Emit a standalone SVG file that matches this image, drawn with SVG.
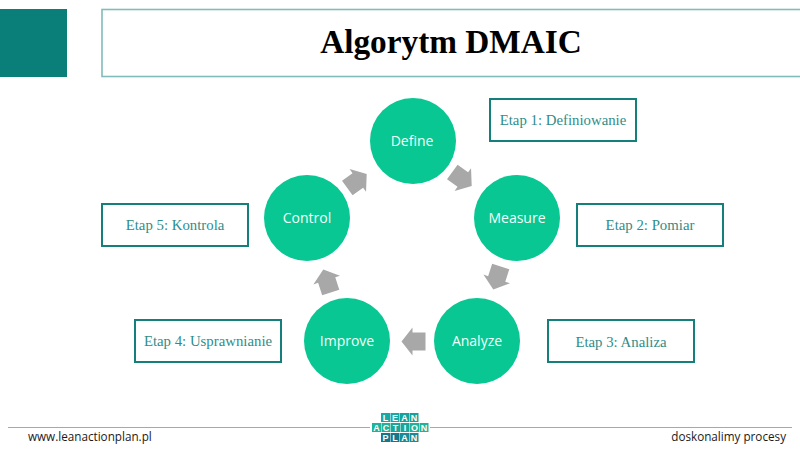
<svg xmlns="http://www.w3.org/2000/svg" width="800" height="450" viewBox="0 0 800 450">
<defs>
<style>
.node{fill:#08c792}
.nt{font-family:"Open Sans","Noto Sans",sans-serif;font-size:14px;fill:#f2fffa;text-anchor:middle}
.box{fill:#fff;stroke:#157f7c;stroke-width:2}
.bt{font-family:"Liberation Serif",serif;font-size:14.8px;fill:#2f8d89;text-anchor:middle}
.arrow{fill:#a8a8a8}
.foot{font-family:"Open Sans","Noto Sans",sans-serif;font-size:11.7px;fill:#1a1a1a}
.lc{stroke:none}
.lt{font-family:"Liberation Sans",sans-serif;font-size:9px;font-weight:bold;fill:#fff;text-anchor:middle}
</style>
<path id="ar" d="M-12 0L-1-14V-9H12V9H-1V14Z"/>
</defs>
<g id="corner"><rect x="0" y="9" width="67" height="68" fill="#0a7f79"/></g>
<g id="title">
<rect x="102" y="9.5" width="700" height="67" fill="#fff" stroke="#7fbcba" stroke-width="1.6"/>
<text x="451" y="53" font-family="'Liberation Serif',serif" font-size="33.3" font-weight="bold" fill="#000" text-anchor="middle">Algorytm DMAIC</text>
</g>
<g id="connectors" class="arrow">
<use href="#ar" transform="translate(462 179) rotate(216)"/>
<use href="#ar" transform="translate(497 278) rotate(288)"/>
<use href="#ar" transform="translate(413.5 341.5)"/>
<use href="#ar" transform="translate(327 281) rotate(72)"/>
<use href="#ar" transform="translate(357 181) rotate(144)"/>
</g>
<g id="define"><circle class="node" cx="413" cy="141" r="43"/><text class="nt" x="412" y="146">Define</text></g>
<g id="measure"><circle class="node" cx="517" cy="218" r="43"/><text class="nt" x="517" y="223">Measure</text></g>
<g id="analyze"><circle class="node" cx="477" cy="341" r="43"/><text class="nt" x="477" y="346">Analyze</text></g>
<g id="improve"><circle class="node" cx="347" cy="341" r="43"/><text class="nt" x="347" y="346">Improve</text></g>
<g id="control"><circle class="node" cx="307" cy="218" r="43"/><text class="nt" x="307" y="223">Control</text></g>
<g id="etap1"><rect class="box" x="490" y="99" width="146" height="42"/><text class="bt" x="563" y="125">Etap 1: Definiowanie</text></g>
<g id="etap2"><rect class="box" x="577" y="204" width="146" height="42"/><text class="bt" x="650" y="230">Etap 2: Pomiar</text></g>
<g id="etap3"><rect class="box" x="548" y="320" width="146" height="42"/><text class="bt" x="621" y="347">Etap 3: Analiza</text></g>
<g id="etap4"><rect class="box" x="135" y="320" width="146" height="42"/><text class="bt" x="208" y="346">Etap 4: Usprawnianie</text></g>
<g id="etap5"><rect class="box" x="102" y="204" width="146" height="42"/><text class="bt" x="175" y="230">Etap 5: Kontrola</text></g>
<g id="footer">
<line x1="8" y1="427.5" x2="792" y2="427.5" stroke="#7cbcb6" stroke-width="1"/>
<text class="foot" x="28" y="441">www.leanactionplan.pl</text>
<text class="foot" x="786" y="441" text-anchor="end">doskonalimy procesy</text>
</g>
<g id="logo">
<rect x="370" y="411" width="60" height="33" fill="#fff"/>
<rect class="lc" x="381" y="413" width="9" height="9" fill="#17a8a8"/><text class="lt" x="385.5" y="421">L</text>
<rect class="lc" x="390.5" y="413" width="9" height="9" fill="#17a8a8"/><text class="lt" x="395" y="421">E</text>
<rect class="lc" x="400" y="413" width="9" height="9" fill="#14a39c"/><text class="lt" x="404.5" y="421">A</text>
<rect class="lc" x="409.5" y="413" width="9" height="9" fill="#14a39c"/><text class="lt" x="414" y="421">N</text>
<rect class="lc" x="372" y="423" width="9" height="9" fill="#1fb39b"/><text class="lt" x="376.5" y="431">A</text>
<rect class="lc" x="381.5" y="423" width="9" height="9" fill="#1fb39b"/><text class="lt" x="386" y="431">C</text>
<rect class="lc" x="391" y="423" width="9" height="9" fill="#1aa79a"/><text class="lt" x="395.5" y="431">T</text>
<rect class="lc" x="400.5" y="423" width="9" height="9" fill="#1aa79a"/><text class="lt" x="405" y="431">I</text>
<rect class="lc" x="410" y="423" width="9" height="9" fill="#1fb39b"/><text class="lt" x="414.5" y="431">O</text>
<rect class="lc" x="419.5" y="423" width="9" height="9" fill="#1fb39b"/><text class="lt" x="424" y="431">N</text>
<rect class="lc" x="381" y="433" width="9" height="9" fill="#14788c"/><text class="lt" x="385.5" y="441">P</text>
<rect class="lc" x="390.5" y="433" width="9" height="9" fill="#14788c"/><text class="lt" x="395" y="441">L</text>
<rect class="lc" x="400" y="433" width="9" height="9" fill="#178c96"/><text class="lt" x="404.5" y="441">A</text>
<rect class="lc" x="409.5" y="433" width="9" height="9" fill="#178c96"/><text class="lt" x="414" y="441">N</text>
</g>
</svg>
